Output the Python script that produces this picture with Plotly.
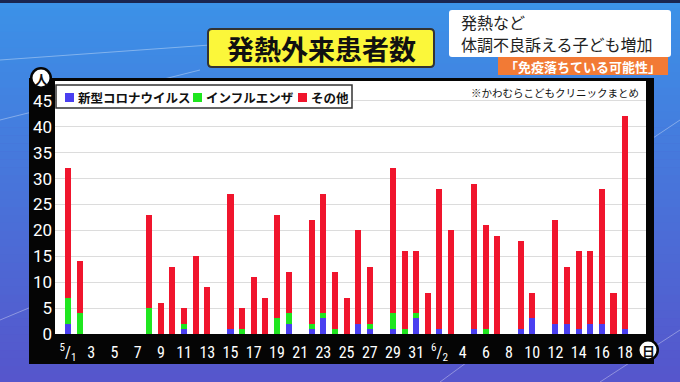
import plotly.graph_objects as go

# ---------------- data ----------------
dates = ["5/1","5/2","5/3","5/4","5/5","5/6","5/7","5/8","5/9","5/10","5/11","5/12","5/13","5/14",
         "5/15","5/16","5/17","5/18","5/19","5/20","5/21","5/22","5/23","5/24","5/25","5/26","5/27","5/28",
         "5/29","5/30","5/31","6/1","6/2","6/3","6/4","6/5","6/6","6/7","6/8","6/9","6/10","6/11",
         "6/12","6/13","6/14","6/15","6/16","6/17","6/18"]
covid = [2,0,0,0,0,0,0,0,0,0,1,0,0,0,
         1,0,0,0,0,2,0,1,3,0,0,2,1,0,
         1,0,3,0,1,0,0,1,0,0,0,1,3,0,
         2,2,1,2,2,0,1]
flu =   [5,4,0,0,0,0,0,5,0,0,1,0,0,0,
         0,1,0,0,3,2,0,1,1,1,0,0,1,0,
         3,1,1,0,0,0,0,0,1,0,0,0,0,0,
         0,0,0,0,0,0,0]
other = [25,10,0,0,0,0,0,18,6,13,3,15,9,0,
         26,4,11,7,20,8,0,20,23,11,7,18,11,0,
         28,15,12,8,27,20,0,28,20,19,0,17,5,0,
         20,11,15,14,26,8,41]
tick_idx = list(range(0, 49, 2))
tick_text = ["<sup>5</sup>/<sub>1</sub>","3","5","7","9","11","13","15","17","19","21","23","25","27",
             "29","31","<sup>6</sup>/<sub>2</sub>","4","6","8","10","12","14","16","18"]
y_ticks = [0,5,10,15,20,25,30,35,40,45]

series_names = ["新型コロナウイルス", "インフルエンザ", "その他"]
series_colors = ["#4a3ff0", "#1fe61f", "#f0152d"]

W, H = 680, 382          # reference coordinate frame
FIG_H = 392              # rendered figure height
def px(x): return x / W
def py(y): return 1 - y / H

FONT = "Noto Sans CJK JP"
days = list(range(len(dates)))

fig = go.Figure()
for name, vals, col in zip(series_names, [covid, flu, other], series_colors):
    fig.add_trace(go.Bar(x=days, y=vals, name=name, marker=dict(color=col, line=dict(width=0)),
                         hovertext=dates, showlegend=False))

def rrect(x0, y0, x1, y1, r):
    return (f"M {px(x0 + r)},{py(y0)} L {px(x1 - r)},{py(y0)} "
            f"Q {px(x1)},{py(y0)} {px(x1)},{py(y0 + r)} L {px(x1)},{py(y1 - r)} "
            f"Q {px(x1)},{py(y1)} {px(x1 - r)},{py(y1)} L {px(x0 + r)},{py(y1)} "
            f"Q {px(x0)},{py(y1)} {px(x0)},{py(y1 - r)} L {px(x0)},{py(y0 + r)} "
            f"Q {px(x0)},{py(y0)} {px(x0 + r)},{py(y0)} Z")

shapes = []
# background gradient (sky blue -> purple blue)
top = (60, 146, 232)
bot = (86, 86, 204)
N = 48
for i in range(N):
    t = i / (N - 1)
    c = tuple(int(top[k] + (bot[k] - top[k]) * t) for k in range(3))
    shapes.append(dict(type="rect", xref="paper", yref="paper", x0=0, x1=1,
                       y0=py(H * (i + 1) / N + 0.5), y1=py(H * i / N),
                       fillcolor="rgb(%d,%d,%d)" % c, line=dict(width=0), layer="below"))
# dark strip at very top
shapes.append(dict(type="rect", xref="paper", yref="paper", x0=0, x1=1, y0=py(3), y1=1,
                   fillcolor="#1a2550", line=dict(width=0), layer="below"))
# faint light streaks
for (x0, y0, x1, y1) in [(0, 60, 420, 30), (0, 120, 200, 70), (0, 320, 120, 270), (600, 382, 680, 330),
                         (440, 382, 470, 360), (650, 140, 680, 120)]:
    shapes.append(dict(type="line", xref="paper", yref="paper", x0=px(x0), y0=py(y0), x1=px(x1), y1=py(y1),
                       line=dict(color="rgba(255,255,255,0.35)", width=1), layer="below"))
# black panel pieces
blk = "#050505"
for (x0, y0, x1, y1) in [(29, 78, 55, 364), (29, 334, 654, 364), (646, 78, 654, 364), (29, 78, 654, 81)]:
    shapes.append(dict(type="rect", xref="paper", yref="paper", x0=px(x0), x1=px(x1), y0=py(y1), y1=py(y0),
                       fillcolor=blk, line=dict(width=0), layer="below"))
# white plot area
shapes.append(dict(type="rect", xref="paper", yref="paper", x0=px(55), x1=px(646), y0=py(334), y1=py(81),
                   fillcolor="white", line=dict(width=0), layer="below"))
# unit circles
for (cx, cy) in [(41, 78), (648, 350)]:
    r = 11
    shapes.append(dict(type="circle", xref="paper", yref="paper", x0=px(cx - r), x1=px(cx + r),
                       y0=py(cy + r), y1=py(cy - r), fillcolor=blk, line=dict(width=0), layer="above"))
    r = 8.5
    shapes.append(dict(type="circle", xref="paper", yref="paper", x0=px(cx - r), x1=px(cx + r),
                       y0=py(cy + r), y1=py(cy - r), fillcolor="white", line=dict(width=0), layer="above"))
# yellow title box
shapes.append(dict(type="path", xref="paper", yref="paper", path=rrect(208, 29, 434, 67, 4),
                   fillcolor="#fbf73a", line=dict(color="#333", width=2), layer="above"))
# white subtitle box
shapes.append(dict(type="path", xref="paper", yref="paper", path=rrect(449, 10, 671, 57, 3),
                   fillcolor="white", line=dict(width=0), layer="above"))
# orange box
shapes.append(dict(type="rect", xref="paper", yref="paper", x0=px(498), x1=px(668), y0=py(75), y1=py(57),
                   fillcolor="#f27a35", line=dict(width=0), layer="above"))
# custom legend box
shapes.append(dict(type="rect", xref="paper", yref="paper", x0=px(56), x1=px(352), y0=py(108), y1=py(85),
                   fillcolor="white", line=dict(color="#333", width=1.5), layer="above"))
legend_sq_x = [65, 193, 298]
legend_tx_x = [76, 204, 309]
for sx, col in zip(legend_sq_x, series_colors):
    shapes.append(dict(type="rect", xref="paper", yref="paper", x0=px(sx), x1=px(sx + 9),
                       y0=py(102), y1=py(93), fillcolor=col, line=dict(width=0), layer="above"))

annotations = [
    dict(text="<b>発熱外来患者数</b>", x=px(321), y=py(48), xref="paper", yref="paper", showarrow=False,
         font=dict(family=FONT, size=27, color="#111"), xanchor="center", yanchor="middle"),
    dict(text="発熱など", x=px(459), y=py(22), xref="paper", yref="paper", showarrow=False,
         font=dict(family=FONT, size=16, color="#222"), xanchor="left", yanchor="middle"),
    dict(text="体調不良訴える子ども増加", x=px(459), y=py(44), xref="paper", yref="paper", showarrow=False,
         font=dict(family=FONT, size=16, color="#222"), xanchor="left", yanchor="middle"),
    dict(text="<b>「免疫落ちている可能性」</b>", x=px(583), y=py(66), xref="paper", yref="paper", showarrow=False,
         font=dict(family=FONT, size=13, color="white"), xanchor="center", yanchor="middle"),
    dict(text="※かわむらこどもクリニックまとめ", x=px(641), y=py(92), xref="paper", yref="paper", showarrow=False,
         font=dict(family=FONT, size=10.5, color="#111"), xanchor="right", yanchor="middle"),
    dict(text="<b>人</b>", x=px(41), y=py(78), xref="paper", yref="paper", showarrow=False,
         font=dict(family=FONT, size=13, color="#111"), xanchor="center", yanchor="middle"),
    dict(text="<b>日</b>", x=px(648), y=py(350), xref="paper", yref="paper", showarrow=False,
         font=dict(family=FONT, size=13, color="#111"), xanchor="center", yanchor="middle"),
]
for tx, name in zip(legend_tx_x, series_names):
    annotations.append(dict(text="<b>" + name + "</b>", x=px(tx), y=py(97.5), xref="paper", yref="paper",
                            showarrow=False, xanchor="left", yanchor="middle",
                            font=dict(family=FONT, size=12.5, color="#111")))

fig.update_layout(
    width=W, height=FIG_H, autosize=False,
    margin=dict(l=0, r=0, t=0, b=0),
    paper_bgcolor="rgb(86,86,204)", plot_bgcolor="rgba(0,0,0,0)",
    barmode="stack", bargap=0.48,
    showlegend=False,
    xaxis=dict(domain=[px(55), px(646)], range=[-1.12, 49.8], tickmode="array",
               tickvals=tick_idx, ticktext=tick_text, showgrid=False, zeroline=False,
               showline=False, ticks="", ticklabelstandoff=7,
               tickfont=dict(family="Liberation Sans Narrow, Roboto Condensed, Roboto", size=16, color="white")),
    yaxis=dict(domain=[py(334), py(81)], range=[0, 48.85], tickmode="array", tickvals=y_ticks,
               showgrid=True, gridcolor="#dcdcdc", gridwidth=1, zeroline=False, showline=False,
               ticks="", ticklabelstandoff=2,
               tickfont=dict(family="Liberation Sans Narrow, Roboto", size=17, color="white")),
    shapes=shapes, annotations=annotations,
    font=dict(family=FONT),
)

fig.write_html("out.html", config={"displayModeBar": False},
               post_script="document.body.style.margin='0';document.body.style.overflow='hidden';"
                           "document.body.style.background='rgb(86,86,204)';")
